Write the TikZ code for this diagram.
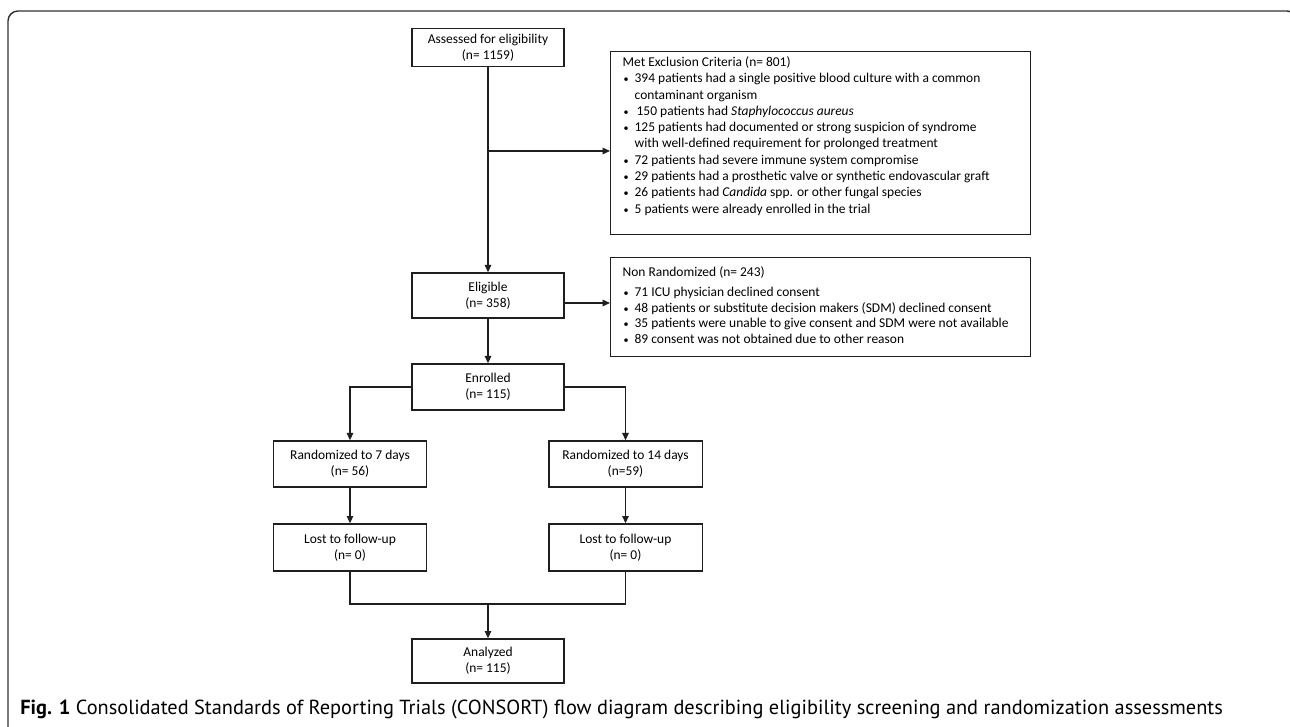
\documentclass[tikz,border=0pt]{standalone}
\usepackage{fontspec}
\usepackage{graphicx}
\setmainfont{Carlito}
\newfontfamily\capfont{PT Sans}
\usetikzlibrary{arrows.meta}
\newcommand{\bitem}[1]{\par\noindent\hangindent=9pt\hangafter=1\makebox[9pt][l]{\hspace{0.8pt}\scalebox{0.75}{\textbullet}}#1}
\begin{document}
\begin{tikzpicture}[x=0.75pt,y=-0.75pt,
  box/.style={draw=black!88, line width=1pt, inner sep=0pt, align=center,
    font=\fontsize{10.1}{12}\selectfont, minimum width=114pt},
  listbox/.style={draw=black!88, line width=1pt, inner sep=0pt, anchor=north west},
  conn/.style={draw=black!88, line width=1pt},
  arr/.style={conn, -{Triangle[length=5.5pt,width=4.8pt]}},
  frame/.style={draw=black!80, line width=1.1pt, rounded corners=7.5pt}]
\useasboundingbox (0,0) rectangle (1290,727);
\clip (0,0) rectangle (1290,727);
\fill[white] (0,0) rectangle (1290,727);
\draw[frame] (8,780) -- (8,11) -- (1297,11) -- (1297,780);

\node[box, minimum height=28.9pt] (assess) at (488,47.5) {Assessed for eligibility\\(n= 1159)};
\node[box, minimum height=33.75pt] (elig) at (488,295.5) {Eligible\\(n= 358)};
\node[box, minimum height=34.5pt] (enrol) at (488,387) {Enrolled\\(n= 115)};
\node[box, minimum width=115pt, minimum height=34.5pt] (r7) at (350,464) {Randomized to 7 days\\(n= 56)};
\node[box, minimum width=115pt, minimum height=34.5pt] (r14) at (625.5,464) {Randomized to 14 days\\(n=59)};
\node[box, minimum width=115pt, minimum height=35.25pt] (l7) at (350,547.5) {Lost to follow-up\\(n= 0)};
\node[box, minimum width=115pt, minimum height=35.25pt] (l14) at (625.5,547.5) {Lost to follow-up\\(n= 0)};
\node[box, minimum height=33pt] (anal) at (488,661) {Analyzed\\(n= 115)};

\node[listbox] (excl) at (610,51) {\parbox[t][137.25pt][t]{315pt}{%
  \fontsize{10.1}{12.2}\selectfont\raggedright\leftskip=9pt
  \noindent\rule{0pt}{11.25pt}Met Exclusion Criteria (n= 801)
  \bitem{394 patients had a single positive blood culture with a common\newline contaminant organism}
  \bitem{\hspace{1.5pt}150 patients had \textit{Staphylococcus aureus}}
  \bitem{125 patients had documented or strong suspicion of syndrome\newline with well-defined requirement for prolonged treatment}
  \bitem{72 patients had severe immune system compromise}
  \bitem{29 patients had a prosthetic valve or synthetic endovascular graft}
  \bitem{26 patients had \textit{Candida} spp. or other fungal species}
  \bitem{5 patients were already enrolled in the trial}\par}};

\node[listbox] (nonr) at (610,257) {\parbox[t][74.25pt][t]{315pt}{%
  \fontsize{10.1}{11.6}\selectfont\raggedright\leftskip=9pt
  \noindent\rule{0pt}{14.25pt}Non Randomized (n= 243)\par\vspace{3.6pt}
  \bitem{71 ICU physician declined consent}
  \bitem{48 patients or substitute decision makers (SDM) declined consent}
  \bitem{35 patients were unable to give consent and SDM were not available}
  \bitem{89 consent was not obtained due to other reason}\par}};

\coordinate (b1) at (488,151);
\coordinate (b2) at (488,303);
\coordinate (j) at (488,604);
\draw[arr] (assess) -- (elig);
\draw[arr] (b1) -- (b1 -| excl.west);
\draw[arr] (elig.east |- b2) -- (b2 -| nonr.west);
\draw[arr] (elig) -- (enrol);
\draw[arr] (enrol.west) -| (r7.north);
\draw[arr] (enrol.east) -| (r14.north);
\draw[arr] (r7) -- (l7);
\draw[arr] (r14) -- (l14);
\draw[conn] (l7.south) |- (j) -| (l14.south);
\draw[arr] (j) -- (anal.north);

\node[anchor=base west, inner sep=0pt] (cap) at (20,714) {\resizebox{902pt}{!}{\capfont\fontsize{13}{15}\selectfont\textbf{Fig. 1} Consolidated Standards of Reporting Trials (CONSORT) flow diagram describing eligibility screening and randomization assessments}};
\end{tikzpicture}
\end{document}
